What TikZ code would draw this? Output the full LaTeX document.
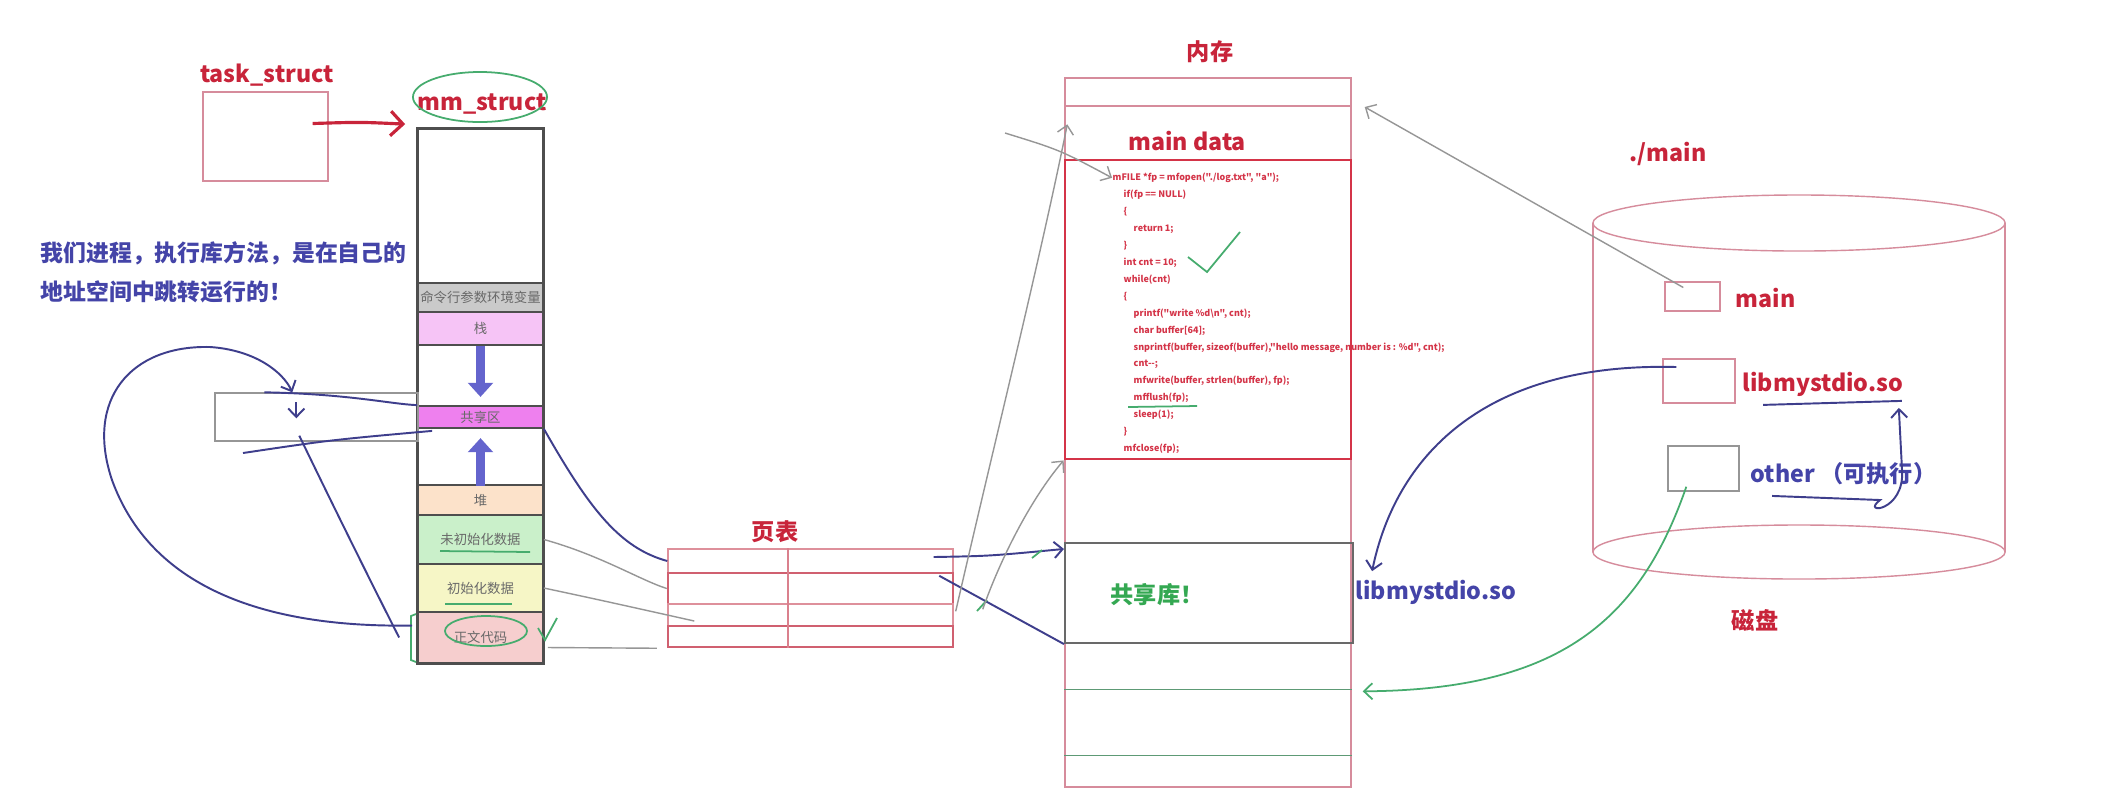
\documentclass[tikz,border=0pt]{standalone}
\usepackage{fontspec}
\setmainfont{Noto Sans CJK SC}
\newfontfamily\codefont{Noto Sans CJK SC}
\usetikzlibrary{arrows.meta,calc,positioning}

\definecolor{lblred}{RGB}{200,36,58}
\definecolor{lblblue}{RGB}{68,68,168}
\definecolor{lblgreen}{RGB}{52,168,82}
\definecolor{memline}{RGB}{214,140,156}
\definecolor{codered}{RGB}{212,52,72}
\definecolor{ptline}{RGB}{208,96,112}
\definecolor{handblue}{RGB}{62,62,140}
\definecolor{handgray}{RGB}{150,150,150}
\definecolor{handgreen}{RGB}{70,172,110}
\definecolor{colgray}{RGB}{78,78,78}
\definecolor{seggray}{RGB}{105,105,105}
\definecolor{arrblue}{RGB}{100,100,205}
\definecolor{segargs}{RGB}{202,202,202}
\definecolor{segstack}{RGB}{246,196,246}
\definecolor{segshare}{RGB}{238,128,238}
\definecolor{segheap}{RGB}{252,226,202}
\definecolor{segbss}{RGB}{202,240,202}
\definecolor{segdata}{RGB}{246,246,198}
\definecolor{segtext}{RGB}{246,206,206}

\tikzset{
  sz/.style 2 args={minimum width=(#1)*0.01cm, minimum height=(#2)*0.01cm, inner sep=0pt},
  lbl/.style={font=\fontsize{6.6}{7}\selectfont\bfseries, text=lblred, inner sep=0pt},
  bluelbl/.style={lbl, text=lblblue},
  seg/.style={draw=colgray, line width=0.5pt, font=\fontsize{3.8}{4}\selectfont, text=seggray},
  rowa/.style={draw=ptline!70, line width=0.4pt},
  rowb/.style={draw=ptline, line width=0.7pt},
  codetxt/.style={font=\codefont\fontsize{2.55}{3}\selectfont\bfseries, text=codered, inner sep=0pt},
  hand/.style={draw=handblue, line width=0.55pt},
  faint/.style={draw=handgray, line width=0.4pt},
  barb/.style={-{Straight Barb[length=2.4pt,width=4.6pt]}},
  fatarr/.style={draw=arrblue, line width=2.3pt, -{Triangle[width=7pt,length=4pt]}},
  greenmark/.style={draw=handgreen, line width=0.5pt}
}

\begin{document}
\begin{tikzpicture}[x=0.01cm, y=-0.01cm]
  \path[use as bounding box, fill=white] (0,0) rectangle (2107,802);

  % task_struct -> mm_struct
  \node[lbl] (tasklbl) at (267,75) {task\_struct};
  \node[draw=memline, sz={125}{89}] (task) at (265.5,136.5) {};
  \node[lbl] (mmlbl) at (482,104) {mm\_struct};
  \draw[greenmark] (480,97) ellipse [x radius=0.67cm, y radius=0.25cm];

  % address space
  \foreach \n/\tp/\bt/\fc/\txt in {mmtop/129/283/white/{}, mmargs/283/312/segargs/命令行参数环境变量,
      mmstack/312/345/segstack/栈, mmgapa/345/406/white/{}, mmshare/406/428/segshare/共享区,
      mmgapb/428/485/white/{}, mmheap/485/515/segheap/堆, mmbss/515/564/segbss/未初始化数据,
      mmdata/564/612/segdata/初始化数据, mmtext/612/663/segtext/正文代码}
    \node[seg, fill=\fc, sz={125}{\bt-\tp}] (\n) at (480.5,{(\tp+\bt)/2}) {\txt};
  \draw[colgray, line width=0.8pt] (mmtop.north west) rectangle (mmtext.south east);
  \draw[fatarr] ([yshift=-0.02cm]mmgapa.north) -- ([yshift=0.1cm]mmgapa.south);
  \draw[fatarr] (mmgapb.south) -- ([yshift=-0.11cm]mmgapb.north);
  \draw[greenmark] (440,551) -- (530,552);
  \draw[greenmark] (445,604) -- (512,604);
  \draw[greenmark] (486,631) ellipse [x radius=0.41cm, y radius=0.15cm];
  \draw[greenmark] (416,614) -- (411,616) -- (411,660) -- (416,662);
  \draw[greenmark] (538,628) -- (545,640) -- (557,618);

  \node[bluelbl, align=left, anchor=west, font=\fontsize{6.5}{11}\selectfont\bfseries] (note)
    at (40,272.5) {我们进程，执行库方法，是在自己的\\地址空间中跳转运行的！};

  % shared region jumps
  \node[draw=handgray, sz={203}{48}] (shrect) at (316.5,417) {};
  \coordinate (lowend) at (243,453);
  \draw[hand, barb] ($(mmtext.west)+(-5,-12)$) .. controls (260,628) and (150,585) .. (112,480)
    .. controls (85,400) and (130,345) .. (210,347) .. controls (255,350) and (283,372) .. ($(shrect.north west)+(78,0)$);
  \draw[hand] ($(shrect.north west)+(50,0)$) .. controls (350,394) and (390,404) .. (mmshare.north west);
  \draw[hand] (lowend) .. controls (330,440) .. ($(mmshare.south west)+(15,2)$);
  \draw[hand] ($(shrect.south west)+(85,-6)$) .. controls (340,520) and (380,600) .. ($(mmtext.west)+(-18,0)$);
  \draw[hand, barb] ($(shrect.north west)+(82,10)$) -- ++(0,16);

  % page table
  \node[lbl] (ptlbl) at (775,532) {页表};
  \foreach \n/\tp/\bt/\st in {pt1/549/573/rowa, pt2/573/604/rowb, pt3/604/626/rowa, pt4/626/647/rowb}
    \node[\st, sz={285}{\bt-\tp}] (\n) at (810.5,{(\tp+\bt)/2}) {};
  \coordinate (ptdiv) at (788,0);
  \draw[ptline!80, line width=0.4pt] (pt1.north -| ptdiv) -- (pt4.south -| ptdiv);

  \draw[hand] (mmshare.south east) .. controls (590,510) and (620,548) .. (pt1.west);
  \draw[faint] (mmbss.east) .. controls (600,555) and (640,580) .. (pt2.west);
  \draw[faint] (mmdata.east) .. controls (600,600) .. ($(pt3.west)+(27,6)$);
  \draw[faint] ($(mmtext.east)+(4,10)$) -- ($(pt4.south west)+(-10,0)$);

  % memory
  \node[lbl] (memlbl) at (1210,52) {内存};
  \node[draw=memline, sz={286}{709}] (mem) at (1208,432.5) {};
  \node[draw=memline, sz={286}{28}] (memhead) at (1208,92) {};
  \node[lbl] (mdlbl) at (1187,141) {main data};
  \node[draw=codered, line width=0.8pt, sz={286}{299}] (code) at (1208,309.5) {};
  \foreach \i/\dx/\txt in {
      0/0/{mFILE *fp = mfopen("./log.txt", "a");},
      1/11/{if(fp == NULL)},
      2/11/{\{},
      3/21/{return 1;},
      4/11/{\}},
      5/11/{int cnt = 10;},
      6/11/{while(cnt)},
      7/11/{\{},
      8/21/{printf("write \%d\textbackslash n", cnt);},
      9/21/{char buffer[64];},
      10/21/{snprintf(buffer, sizeof(buffer),"hello message, number is : \%d", cnt);},
      11/21/{cnt-{}-;},
      12/21/{mfwrite(buffer, strlen(buffer), fp);},
      13/21/{mfflush(fp);},
      14/21/{sleep(1);},
      15/11/{\}},
      16/11/{mfclose(fp);}}
    \node[codetxt, anchor=base west] (cl\i) at ({1112+\dx},{180.5+16.95*\i}) {\txt};
  \draw[greenmark] (1188,257) -- (1207,272) -- (1240,232);
  \draw[greenmark] (1128,407) -- (1197,406);
  \node[draw=colgray!85, line width=0.6pt, sz={288}{100}] (shlib) at (1209,593) {};
  \node[lbl, text=lblgreen] (shliblbl) at (1157,595) {共享库！};
  \node[sz={286}{65}] (memslot) at (1208,722.5) {};
  \draw[handgreen!60!gray, line width=0.4pt] (memslot.north west) -- (memslot.north east)
    (memslot.south west) -- (memslot.south east);
  \node[bluelbl] (memlib) at (1436,592) {libmystdio.so};

  \draw[hand, barb] ($(pt1.east)+(-20,-4)$) .. controls (990,556) .. ($(shlib.north west)+(0,7)$);
  \draw[hand] ($(pt2.north east)+(-15,4)$) -- (shlib.south west);
  \draw[greenmark] (1032,558) -- (1042,550);
  \draw[greenmark] (977,611) -- (987,600);
  \draw[faint, barb] ($(pt3.north east)+(2,8)$) .. controls (995,440) and (1040,260) .. ($(mem.north west)+(3,47)$);
  \draw[faint, barb] ($(pt3.north east)+(29,6)$) .. controls (1000,560) and (1030,500) .. (code.south west);
  \coordinate (fromleft) at (1005,133);
  \draw[faint, barb] (fromleft) .. controls (1060,150) .. (cl0.west);

  % disk
  \node[lbl] (dirlbl) at (1668,154) {./main};
  \draw[memline] (1593,223) -- (1593,552) (2005,223) -- (2005,552);
  \draw[memline] (1799,223) ellipse [x radius=2.06cm, y radius=0.28cm];
  \draw[memline] (1799,552) ellipse [x radius=2.06cm, y radius=0.27cm];
  \node[draw=memline, sz={55}{29}] (dmain) at (1692.5,296.5) {};
  \node[lbl, anchor=west] (dmainlbl) at (1735,298) {main};
  \node[draw=memline, sz={72}{44}] (dlib) at (1699,381) {};
  \node[lbl, anchor=west] (dliblbl) at (1742,384) {libmystdio.so};
  \node[draw=handgray, sz={71}{45}] (doth) at (1703.5,468.5) {};
  \node[bluelbl, anchor=west] (dothlbl) at (1750,474) {other （可执行）};
  \node[lbl] (disklbl) at (1755,620) {磁盘};

  \draw[hand] ($(dliblbl.south west)+(21,8)$) -- ($(dliblbl.south east)+(-2,4)$);
  \draw[hand, barb] ($(dothlbl.south west)+(22,10)$) -- (1880,500) .. controls (1860,515) and (1905,512) .. (1902,470)
    .. controls (1900,440) .. ($(dliblbl.south east)+(-5,11)$);

  \draw[faint, barb] ($(dmain.west)+(19,-9)$) -- ($(memhead.east)+(13,15)$);
  \draw[hand, barb] ($(dlib.west)+(14,-14)$) .. controls (1480,362) and (1395,460) .. ($(memlib.north west)+(17,-8)$);
  \draw[greenmark, barb] ($(doth.south west)+(19,-5)$) .. controls (1640,620) and (1560,690) .. ($(memslot.north east)+(11,2)$);

  % task -> mm arrow
  \draw[lblred, line width=0.9pt, -{Straight Barb[length=3.5pt,width=7pt]}] ($(task.east)+(-16,-13)$) .. controls (360,122) .. ($(mmtop.north west)+(-12,-4)$);
\end{tikzpicture}
\end{document}
